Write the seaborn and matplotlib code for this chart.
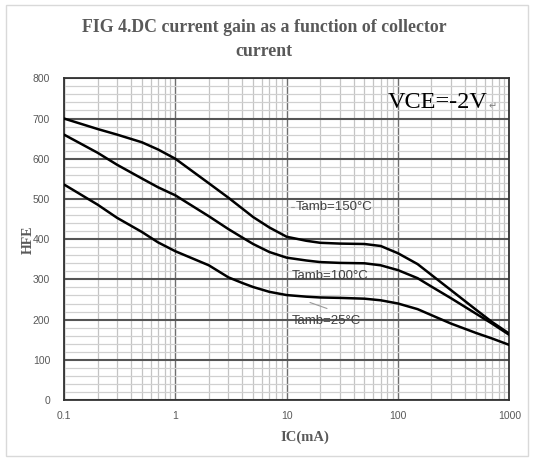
import matplotlib
matplotlib.use("Agg")
import matplotlib.pyplot as plt
from matplotlib.ticker import LogLocator, MultipleLocator, FixedLocator, FixedFormatter, NullFormatter
from matplotlib.patches import Rectangle
import seaborn as sns
import pandas as pd

# values
ic_ma = [0.1, 0.2, 0.3, 0.5, 0.7, 1, 2, 3, 4, 5, 7, 10, 15, 20, 30, 50, 70, 100, 150, 200, 300, 500, 700, 1000]
hfe_150 = [700, 674, 660, 641, 623, 600, 539, 503, 476, 455, 429, 406, 396, 391, 389, 388, 383, 365, 338, 311, 273, 225, 194, 165]
hfe_100 = [660, 615, 585, 551, 529, 509, 457, 425, 404, 388, 368, 354, 347, 343, 341, 340, 335, 323, 303, 282, 253, 215, 190, 162]
hfe_25 = [536, 486, 453, 418, 392, 370, 335, 305, 291, 281, 269, 261, 257, 255, 254, 252, 248, 240, 226, 211, 190, 167, 153, 137]
series_names = ["Tamb=150°C", "Tamb=100°C", "Tamb=25°C"]
x_ticks = [0.1, 1, 10, 100, 1000]
x_tick_labels = ["0.1", "1", "10", "100", "1000"]
y_ticks = [0, 100, 200, 300, 400, 500, 600, 700, 800]

df = pd.concat([
    pd.DataFrame({"IC": ic_ma, "HFE": vals, "series": name})
    for name, vals in zip(series_names, [hfe_150, hfe_100, hfe_25])
])

sns.set_style("white")
fig = plt.figure(figsize=(5.36, 4.58), dpi=100)
ax = fig.add_axes([0.1194, 0.1266, 0.8308, 0.7024])

sns.lineplot(data=df, x="IC", y="HFE", hue="series", palette=["black"] * 3,
             linewidth=1.8, legend=False, ax=ax, zorder=5)

ax.set_xscale("log")
ax.set_xlim(0.1, 1000)
ax.set_ylim(0, 800)
ax.xaxis.set_major_locator(FixedLocator(x_ticks))
ax.xaxis.set_major_formatter(FixedFormatter(x_tick_labels))
ax.xaxis.set_minor_locator(LogLocator(base=10, subs=range(2, 10)))
ax.xaxis.set_minor_formatter(NullFormatter())
ax.yaxis.set_major_locator(FixedLocator(y_ticks))
ax.yaxis.set_minor_locator(MultipleLocator(20))

ax.xaxis.grid(True, which="major", color="#6f6f6f", lw=1.0, zorder=1)
ax.xaxis.grid(True, which="minor", color="#c4c4c4", lw=0.9, zorder=1)
ax.yaxis.grid(True, which="major", color="#555555", lw=1.5, zorder=1)
ax.yaxis.grid(True, which="minor", color="#d0d0d0", lw=0.9, zorder=1)
ax.set_axisbelow(True)

ax.tick_params(which="both", length=0)
ax.tick_params(axis="y", pad=10)
ax.tick_params(axis="x", pad=8)
for lab in ax.get_xticklabels() + ax.get_yticklabels():
    lab.set_fontfamily("Liberation Sans")
    lab.set_fontsize(7.5)
    lab.set_color("#595959")

for sp in ax.spines.values():
    sp.set_color("#333333")
    sp.set_linewidth(1.3)

ax.set_xlabel("")
ax.set_ylabel("")

# series labels
lab_kw = dict(fontsize=9.5, color="#404040", family="Liberation Sans", va="center", zorder=6)
fig.text(296 / 536, 1 - 207 / 458, series_names[0], **lab_kw)
fig.text(292 / 536, 1 - 276 / 458, series_names[1], **lab_kw)
fig.text(292 / 536, 1 - 321 / 458, series_names[2], **lab_kw)
fig.add_artist(plt.Line2D([291 / 536, 294 / 536], [1 - 207 / 458, 1 - 207 / 458],
                          color="#9a9a9a", lw=0.8))
fig.add_artist(plt.Line2D([310 / 536, 327 / 536], [1 - 302.5 / 458, 1 - 308.5 / 458],
                          color="#9a9a9a", lw=0.8))

# condition note
fig.text(388 / 536, 1 - 103 / 458, "VCE=-2V", fontsize=17.5, color="black",
         family="Liberation Serif", va="center", ha="left")
fig.text(489 / 536, 1 - 106 / 458, "\u21b5", fontsize=7, color="#7f7f7f",
         family="DejaVu Sans", va="center", ha="left")

# title and axis titles
fig.text(264 / 536, 1 - 27 / 458, "FIG 4.DC current gain as a function of collector",
         fontsize=12.8, fontweight="bold", family="Liberation Serif", color="#595959",
         ha="center", va="center")
fig.text(264 / 536, 1 - 52 / 458, "current",
         fontsize=12.8, fontweight="bold", family="Liberation Serif", color="#595959",
         ha="center", va="center")
fig.text(28 / 536, 1 - 240 / 458, "HFE", rotation=90, fontsize=10, fontweight="bold",
         family="Liberation Serif", color="#595959", ha="center", va="center")
fig.text(305 / 536, 1 - 437 / 458, "IC(mA)", fontsize=10.5, fontweight="bold",
         family="Liberation Serif", color="#595959", ha="center", va="center")

# outer frame
fig.add_artist(Rectangle((6 / 536, 2 / 458), 522 / 536, 451 / 458, transform=fig.transFigure,
                         fill=False, edgecolor="#d9d9d9", lw=1.0))

fig.savefig("out.png", dpi=100)
